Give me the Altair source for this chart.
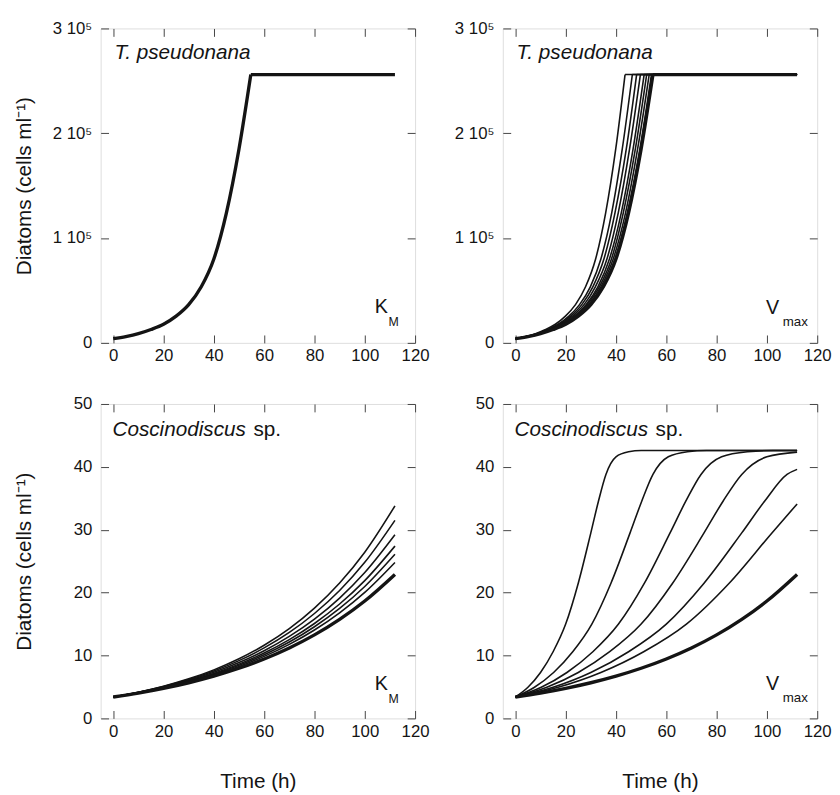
import altair as alt
import pandas as pd

FONT = "Liberation Sans"
INK = "#141414"
FRAME = "#444444"

# ---------------- axes ----------------
X_DOMAIN = [-5, 120]
X_TICKS = [0, 20, 40, 60, 80, 100, 120]
TP_Y_DOMAIN = [0, 300000]
TP_Y_TICKS = [0, 100000, 200000, 300000]
CO_Y_DOMAIN = [0, 50]
CO_Y_TICKS = [0, 10, 20, 30, 40, 50]
X_TITLE = "Time (h)"
Y_TITLE = "Diatoms (cells ml\u207b\u00b9)"
TP_LABEL_EXPR = "datum.value == 0 ? '0' : format(datum.value / 100000, 'd') + ' 10\u2075'"

# ---------------- T. pseudonana ----------------
TP_LEVELS = [4000, 6000, 8800, 12800, 17800, 25500, 36500, 53500, 80000, 124000, 185000, 256000]
TP_PLATEAU = 256000
T_END = 112
TP_BASE_T = [0, 5, 10, 15, 20, 25, 30, 35, 40, 45, 50, 54.7]
TP_VMAX_T = [
    [0, 4.0, 8.0, 12.0, 15.9, 19.9, 23.9, 27.9, 31.9, 35.9, 39.9, 43.6],
    [0, 4.3, 8.5, 12.8, 17.0, 21.3, 25.5, 29.8, 34.0, 38.3, 42.5, 46.5],
    [0, 4.4, 8.8, 13.2, 17.6, 22.0, 26.4, 30.8, 35.2, 39.6, 44.1, 48.2],
    [0, 4.5, 9.1, 13.6, 18.2, 22.7, 27.3, 31.8, 36.4, 40.9, 45.4, 49.7],
    [0, 4.7, 9.4, 14.0, 18.7, 23.4, 28.1, 32.8, 37.4, 42.1, 46.8, 51.2],
    [0, 4.8, 9.5, 14.3, 19.1, 23.9, 28.6, 33.4, 38.2, 42.9, 47.7, 52.2],
    [0, 4.9, 9.7, 14.6, 19.5, 24.3, 29.2, 34.0, 38.9, 43.8, 48.6, 53.2],
    [0, 4.9, 9.9, 14.8, 19.8, 24.7, 29.7, 34.6, 39.6, 44.5, 49.5, 54.1],
]

# ---------------- Coscinodiscus sp. (K_M) ----------------
CO_T = [0, 10, 20, 30, 40, 50, 60, 70, 80, 90, 100, 112]
CO_BASE = [3.4, 4.03, 4.78, 5.67, 6.72, 7.97, 9.45, 11.20, 13.28, 15.75, 18.67, 22.9]
CO_KM = [
    [3.4, 4.17, 5.12, 6.29, 7.72, 9.48, 11.64, 14.28, 17.54, 21.53, 26.43, 33.8],
    [3.4, 4.15, 5.06, 6.17, 7.53, 9.19, 11.21, 13.67, 16.68, 20.34, 24.82, 31.5],
    [3.4, 4.12, 4.99, 6.05, 7.33, 8.88, 10.76, 13.04, 15.79, 19.14, 23.19, 29.2],
    [3.4, 4.10, 4.94, 5.95, 7.16, 8.63, 10.40, 12.53, 15.09, 18.19, 21.91, 27.4],
    [3.4, 4.08, 4.89, 5.87, 7.04, 8.45, 10.13, 12.15, 14.58, 17.49, 20.98, 26.1],
    [3.4, 4.06, 4.85, 5.79, 6.91, 8.26, 9.86, 11.77, 14.06, 16.79, 20.04, 24.8],
]

# ---------------- Coscinodiscus sp. (V_max) ----------------
VM_A_T = [0, 5, 10, 15, 20, 25, 30, 33, 36, 40, 45, 50, 112]
VM_A_V = [3.4, 4.95, 7.3, 10.6, 15.0, 21.5, 29.5, 34.5, 38.8, 41.6, 42.4, 42.6, 42.6]
VM_B_T = [0, 7.6, 15.2, 22.8, 30.4, 38.0, 45.6, 50.2, 54.7, 60.8, 68.4, 76.0, 112]
VM_B_V = [3.4, 4.95, 7.3, 10.6, 15.0, 21.5, 29.5, 34.5, 38.8, 41.6, 42.4, 42.6, 42.6]
VM_C_T = [0, 10.3, 20.5, 30.8, 41.0, 51.3, 61.5, 67.7, 73.8, 82.0, 92.3, 102.5, 112]
VM_C_V = [3.4, 4.95, 7.3, 10.6, 15.0, 21.5, 29.5, 34.5, 38.8, 41.6, 42.4, 42.6, 42.6]
VM_D_T = [0, 12.5, 25, 37.5, 50, 62.5, 75, 82.5, 90, 100, 112]
VM_D_V = [3.4, 4.95, 7.3, 10.6, 15.0, 21.5, 29.5, 34.5, 38.8, 41.6, 42.35]
VM_E_T = [0, 15, 30, 45, 60, 75, 90, 99, 108, 112]
VM_E_V = [3.4, 4.95, 7.3, 10.6, 15.0, 21.5, 29.5, 34.5, 38.8, 39.6]
VM_F_T = [0, 17, 34, 51, 68, 85, 102, 112]
VM_F_V = [3.4, 4.95, 7.3, 10.6, 15.0, 21.5, 29.5, 34.1]


def line_df(curves):
    rows = []
    for name, ts, vs in curves:
        for t, v in zip(ts, vs):
            rows.append({"t": t, "v": v, "c": name})
    return pd.DataFrame(rows)


def tp_curves(ts_list, prefix):
    out = []
    for i, ts in enumerate(ts_list):
        out.append((f"{prefix}{i}r", ts, TP_LEVELS))
        out.append((f"{prefix}{i}p", [ts[-1], T_END], [TP_PLATEAU, TP_PLATEAU]))
    return out


TICK = dict(grid=False, domain=False, ticks=True, tickSize=8, offset=-8,
            tickColor=FRAME, tickWidth=1)
LBL = dict(labelFont=FONT, labelFontSize=17, labelColor=INK)


def xaxis(orient, labels, title):
    kw = dict(orient=orient, values=X_TICKS, labels=labels, labelFlush=False, **TICK)
    if labels:
        kw.update(LBL)
        kw["labelPadding"] = 5
    if title:
        kw.update(title=title, titleFont=FONT, titleFontSize=21, titleFontWeight="normal",
                  titleColor=INK, titlePadding=32)
    else:
        kw["title"] = None
    return alt.Axis(**kw)


def yaxis(orient, labels, ticks_vals, expr, title):
    kw = dict(orient=orient, values=ticks_vals, labels=labels, **TICK)
    if labels:
        kw.update(LBL)
        kw["labelPadding"] = 9
        if expr:
            kw["labelExpr"] = expr
    if title:
        kw.update(title=title, titleFont=FONT, titleFontSize=21, titleFontWeight="normal",
                  titleColor=INK, titleX=-75.5, titleY=159.5)
    else:
        kw["title"] = None
    return alt.Axis(**kw)


ANNOT = pd.DataFrame({"k": [0]})


def txt(s, x, y, size, style="normal"):
    return alt.Chart(ANNOT).mark_text(
        text=s, align="left", baseline="alphabetic", font=FONT, fontSize=size,
        fontStyle=style, color=INK
    ).encode(x=alt.value(x), y=alt.value(y))


def panel(thin_curves, thick_curves, ydom, yticks, expr, left_title, bottom_title, texts):
    xs = alt.Scale(domain=X_DOMAIN, nice=False, zero=False)
    ys = alt.Scale(domain=ydom, nice=False, zero=False)
    layers = []
    if thin_curves:
        layers.append(
            alt.Chart(line_df(thin_curves)).mark_line(
                interpolate="monotone", color=INK, strokeWidth=1.6
            ).encode(
                x=alt.X("t:Q", scale=xs, axis=None),
                y=alt.Y("v:Q", scale=ys, axis=None),
                detail="c:N",
            )
        )
    thick_df = line_df(thick_curves)
    layers.append(
        alt.Chart(thick_df).mark_line(
            interpolate="monotone", color=INK, strokeWidth=3.4
        ).encode(
            x=alt.X("t:Q", scale=xs, axis=xaxis("bottom", True, X_TITLE if bottom_title else None)),
            y=alt.Y("v:Q", scale=ys, axis=yaxis("left", True, yticks, expr, Y_TITLE if left_title else None)),
            detail="c:N",
        )
    )
    layers.append(
        alt.Chart(thick_df).mark_line(strokeOpacity=0).encode(
            x=alt.X("t:Q", scale=xs, axis=xaxis("top", False, None)),
            y=alt.Y("v:Q", scale=ys, axis=yaxis("right", False, yticks, None, None)),
            detail="c:N",
        )
    )
    layers.extend(texts)
    return alt.layer(*layers).resolve_axis(x="independent", y="independent").properties(
        width=319, height=319
    )


def species_tp():
    return [txt("T. pseudonana", 14, 30.5, 21, "italic")]


def species_co():
    return [txt("Coscinodiscus", 12, 32, 21, "italic"), txt("sp.", 155, 32, 21)]


def km_label(y0):
    return [txt("K", 278, y0, 20), txt("M", 292, y0 + 13, 12.5)]


def vmax_label(y0):
    return [txt("V", 267, y0, 20), txt("max", 284, y0 + 12, 13.5)]


p1 = panel(None, tp_curves([TP_BASE_T], "b"), TP_Y_DOMAIN, TP_Y_TICKS, TP_LABEL_EXPR,
           True, False, species_tp() + km_label(289))
p2 = panel(tp_curves(TP_VMAX_T, "v"), tp_curves([TP_BASE_T], "b"), TP_Y_DOMAIN, TP_Y_TICKS,
           TP_LABEL_EXPR, False, False, species_tp() + vmax_label(290))
p3 = panel([(f"k{i}", CO_T, vs) for i, vs in enumerate(CO_KM)], [("base", CO_T, CO_BASE)],
           CO_Y_DOMAIN, CO_Y_TICKS, None, True, True, species_co() + km_label(290))
p4 = panel([("a", VM_A_T, VM_A_V), ("b", VM_B_T, VM_B_V), ("c", VM_C_T, VM_C_V),
            ("d", VM_D_T, VM_D_V), ("e", VM_E_T, VM_E_V), ("f", VM_F_T, VM_F_V)],
           [("base", CO_T, CO_BASE)], CO_Y_DOMAIN, CO_Y_TICKS, None, False, True,
           species_co() + vmax_label(290))

chart = alt.concat(p1, p2, p3, p4, columns=2, spacing={"row": 30, "column": 24}).properties(
    align="each", padding={"left": 5, "top": 5, "right": 0, "bottom": 0}
).configure_view(stroke=FRAME, strokeWidth=1).configure(font=FONT, background="white")

chart.save("out.html", embed_options={"renderer": "svg", "actions": False})
